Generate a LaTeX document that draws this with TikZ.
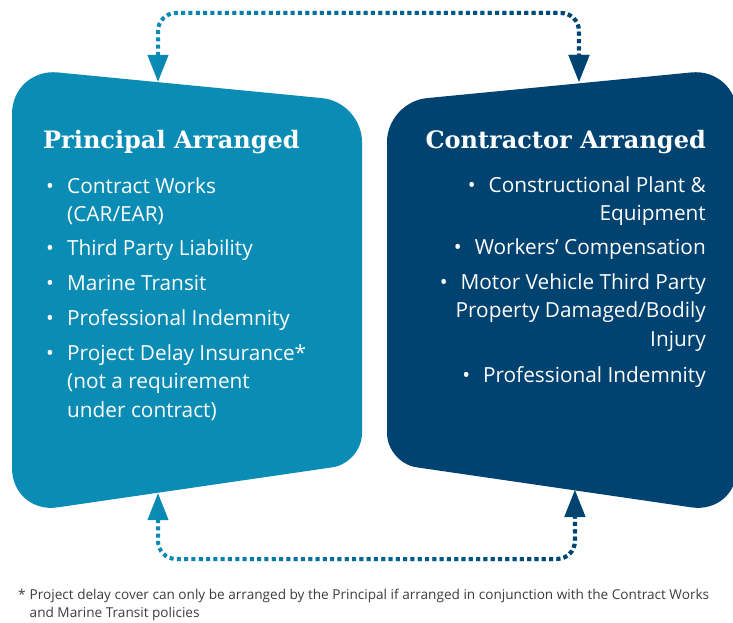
\documentclass[tikz,border=0pt]{standalone}
\usepackage{fontspec}
\setmainfont{Open Sans}
\newfontfamily\slabfont{DejaVu Serif}
\newfontfamily\notefont{Open Sans}
\usetikzlibrary{arrows.meta,fadings}
\definecolor{princblue}{RGB}{10,140,180}
\definecolor{contrnavy}{RGB}{0,66,112}
\definecolor{notegrey}{RGB}{60,60,60}
% stacked lines, baseline on the first row
\newcommand{\rows}[2]{\begin{tabular}[t]{@{}#1@{}}#2\end{tabular}}

\tikzset{
  paneltitle/.style={font=\slabfont\bfseries\fontsize{24}{28}\selectfont,text=white,inner sep=0pt},
  listtext/.style={font=\fontsize{20.8}{28.5}\selectfont,text=white,inner sep=0pt},
  notetext/.style={font=\notefont\fontsize{13.6}{18}\selectfont,text=notegrey,inner sep=0pt},
  link/.style={line width=4pt,dash pattern=on 4pt off 3.3pt,rounded corners=18pt,
    {Triangle[length=27pt,width=20pt]}-{Triangle[length=27pt,width=20pt]}}
}

\begin{document}
\begin{tikzpicture}[x=1pt,y=-1pt]
\useasboundingbox (0,0) rectangle (733,623);

% the two panels
\fill[princblue] (12,300) [rounded corners=46pt] -- (12,68) [rounded corners=40pt] -- (362,102) [rounded corners=30pt] -- (362,463) [rounded corners=46pt] -- (12,514) -- cycle;
\fill[contrnavy] (737,300) [rounded corners=46pt] -- (737,68) [rounded corners=40pt] -- (387,102) [rounded corners=30pt] -- (387,463) [rounded corners=46pt] -- (737,514) -- cycle;

\coordinate (pin) at (158,82);
\coordinate (cin) at (579,82);
\coordinate (pout) at (158,493);
\coordinate (cout) at (575,490);
\coordinate (topmid) at (368,13);
\coordinate (botmid) at (366,559);

% dotted links, teal on the left running into navy on the right
\draw[link,princblue] (pin) |- (topmid) -| (cin);
\draw[link,contrnavy,path fading=west] (pin) |- (topmid) -| (cin);
\draw[link,princblue] (pout) |- (botmid) -| (cout);
\draw[link,contrnavy,path fading=west] (pout) |- (botmid) -| (cout);

\node[paneltitle,anchor=base west] (ptitle) at (43,148) {Principal Arranged};
\node[paneltitle,anchor=base east] (ctitle) at (706,148) {Contractor Arranged};

\foreach \y/\txt [count=\i] in {193/{Contract Works\\(CAR/EAR)}, 255/{Third Party Liability}, 290/{Marine Transit}, 325/{Professional Indemnity}, 360/{Project Delay Insurance*\\(not a requirement\\under contract)}}{
  \node[listtext,anchor=base west] (pdot\i) at (46,\y) {•};
  \node[listtext,anchor=base west] (pitem\i) at (67,\y) {\rows{l}{\txt}};
}

\foreach \y/\txt [count=\i] in {192/{•\hspace{13pt}Constructional Plant \&\\Equipment}, 254/{•\hspace{13pt}Workers’ Compensation}, 289/{•\hspace{13pt}Motor Vehicle Third Party\\Property Damaged/Bodily\\Injury}, 382/{•\hspace{13pt}Professional Indemnity}}{
  \node[listtext,anchor=base east] (citem\i) at (706,\y) {\rows{r}{\txt}};
}

\node[notetext,anchor=base west] (note) at (18,599) {\begin{tabular}[t]{@{}l@{\hspace{4pt}}l@{}}*&Project delay cover can only be arranged by the Principal if arranged in conjunction with the Contract Works\\&and Marine Transit policies\end{tabular}};
\end{tikzpicture}
\end{document}
